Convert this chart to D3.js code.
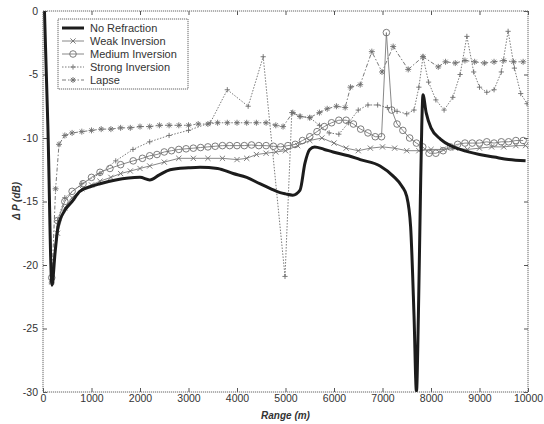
<!DOCTYPE html>
<html><head><meta charset="utf-8">
<script src="https://cdn.jsdelivr.net/npm/d3@7"></script>
<style>body{margin:0;background:#fff}svg{display:block}</style>
</head><body><svg id="c" width="544" height="424"></svg>
<script>
// ---- data ----
const xTicks=[0,1000,2000,3000,4000,5000,6000,7000,8000,9000,10000];
const yTicks=[0,-5,-10,-15,-20,-25,-30];
const seriesNames=["No Refraction","Weak Inversion","Medium Inversion","Strong Inversion","Lapse"];

const noRefR=[30,100,185,250,310,450,600,760,1000,1175,1500,2000,2200,2400,2620,3000,3240,3600,3920,4200,4470,4700,4890,5000,5150,5300,5400,5500,5600,5800,5980,6300,6540,6950,7220,7400,7500,7580,7650,7700,7740,7780,7810,7835,7900,8000,8200,8400,8600,9000,9300,9600,9950];
const noRefDb=[0,-9,-21.6,-19,-17,-15.7,-15,-14.2,-13.8,-13.6,-13.3,-13.1,-13.3,-12.9,-12.5,-12.35,-12.3,-12.4,-12.8,-13.1,-13.6,-14.0,-14.3,-14.4,-14.5,-14.1,-12,-10.9,-10.7,-10.9,-11.1,-11.4,-11.7,-12.2,-13.0,-13.8,-14.6,-17,-24,-30,-24,-15,-9,-6.6,-8.0,-9.2,-10.1,-10.6,-10.9,-11.3,-11.5,-11.7,-11.8];

const weakR=[40,180,300,450,600,800,1000,1175,1400,1600,1800,2000,2200,2500,2800,3100,3400,3700,4000,4200,4400,4600,4800,5000,5250,5500,5750,6000,6250,6500,6750,7000,7250,7500,7750,8000,8250,8500,8750,9000,9250,9500,9750,9950];
const weakDb=[-1,-21.3,-17.5,-15.5,-14.7,-14.0,-13.7,-13.4,-13.1,-12.8,-12.6,-12.4,-12.2,-11.9,-11.6,-11.6,-11.6,-11.6,-11.7,-11.6,-11.3,-11.2,-11.1,-11.0,-10.6,-10.2,-10.0,-10.4,-10.8,-11.0,-10.8,-10.7,-10.8,-11.0,-11.0,-10.9,-10.9,-10.8,-10.9,-10.8,-10.7,-10.7,-10.6,-10.6];

const medR=[40,180,300,450,600,825,1000,1175,1380,1600,1860,2050,2200,2350,2500,2650,2800,2950,3100,3250,3400,3550,3700,3850,4000,4150,4300,4450,4600,4750,4900,5050,5200,5350,5500,5650,5800,5950,6100,6250,6400,6550,6700,6850,6980,7080,7190,7300,7420,7560,7700,7830,7960,8100,8250,8400,8550,8700,8850,9000,9150,9300,9450,9600,9750,9900];
const medDb=[-1,-21,-16.5,-15,-14.2,-13.6,-13.1,-12.7,-12.4,-12.1,-11.8,-11.6,-11.4,-11.3,-11.1,-11.0,-10.9,-10.85,-10.8,-10.75,-10.7,-10.65,-10.6,-10.6,-10.6,-10.6,-10.55,-10.6,-10.6,-10.65,-10.7,-10.6,-10.5,-10.2,-9.9,-9.5,-9.1,-8.8,-8.6,-8.6,-8.9,-9.3,-9.6,-9.9,-9.9,-1.7,-7.8,-8.9,-9.4,-10.0,-10.4,-10.7,-11.2,-11.2,-11.0,-10.7,-10.5,-10.4,-10.4,-10.4,-10.3,-10.4,-10.3,-10.3,-10.2,-10.2];

const strR=[40,180,300,450,800,1175,1500,1855,2200,2600,3000,3450,3800,4230,4540,4990,5130,5300,5500,5700,5900,6100,6300,6500,6700,6900,7100,7300,7500,7650,7750,7835,7950,8100,8270,8450,8600,8740,8880,9000,9150,9300,9450,9590,9720,9850,9980];
const strDb=[-1,-21.3,-16.5,-14.7,-13.6,-12.8,-11.8,-10.9,-10.3,-9.8,-9.4,-8.8,-6.2,-7.5,-3.6,-20.9,-8.0,-8.3,-8.4,-9.0,-9.6,-9.7,-8.8,-7.8,-7.4,-7.4,-7.6,-7.9,-8.1,-7.8,-6.0,-3.6,-5.6,-7.0,-7.8,-6.8,-5.0,-2.0,-4.8,-6.0,-6.4,-6.2,-4.8,-1.6,-4.5,-6.5,-7.3];

const lapR=[40,180,260,330,450,600,800,1000,1200,1400,1600,1800,2000,2200,2400,2600,2800,3000,3200,3400,3600,3800,4000,4200,4400,4600,4800,4950,5150,5300,5500,5700,5860,6050,6230,6340,6540,6780,6990,7220,7530,7835,8150,8300,8500,8700,8900,9100,9300,9500,9700,9900];
const lapDb=[-1,-21.4,-14,-10.5,-9.8,-9.6,-9.5,-9.4,-9.3,-9.3,-9.2,-9.2,-9.1,-9.1,-9.0,-9.0,-9.0,-9.0,-8.9,-8.9,-8.8,-8.8,-8.8,-8.8,-8.8,-8.8,-9.0,-9.1,-8.0,-8.3,-8.4,-8.0,-7.7,-7.5,-7.6,-6.0,-5.8,-3.2,-4.8,-2.8,-4.6,-3.6,-4.4,-4.0,-4.1,-3.9,-4.0,-4.1,-4.0,-3.9,-4.0,-4.0];

// ---- drawing ----
const svg=d3.select("#c");
const L=43,R=528,T=11,B=392;
const x=d3.scaleLinear().domain([0,10000]).range([L,R]);
const y=d3.scaleLinear().domain([-30,0]).range([B,T]);
const font="Liberation Sans, Arial, sans-serif";
const grey="#7a7a7a";

svg.append("rect").attr("width",544).attr("height",424).attr("fill","#fff");
svg.append("defs").append("clipPath").attr("id","clip")
  .append("rect").attr("x",L).attr("y",T).attr("width",R-L).attr("height",B-T);

// axes (MATLAB style inward ticks)
function styleAxis(g,labels){
  g.select(".domain").remove();
  g.selectAll(".tick line").attr("stroke","#555");
  g.selectAll(".tick text").attr("font-family",font).attr("font-size",10.5).attr("fill","#333");
  if(!labels) g.selectAll(".tick text").remove();
}
svg.append("g").attr("transform",`translate(0,${B})`)
  .call(d3.axisBottom(x).tickValues(xTicks).tickFormat(d3.format("d")).tickSizeInner(-4).tickSizeOuter(0).tickPadding(3))
  .call(g=>styleAxis(g,true));
svg.append("g").attr("transform",`translate(0,${T})`)
  .call(d3.axisTop(x).tickValues(xTicks).tickSizeInner(-4).tickSizeOuter(0))
  .call(g=>styleAxis(g,false));
svg.append("g").attr("transform",`translate(${L},0)`)
  .call(d3.axisLeft(y).tickValues(yTicks).tickFormat(d=>d===0?"0":String(d)).tickSizeInner(-4).tickSizeOuter(0).tickPadding(5))
  .call(g=>styleAxis(g,true));
svg.append("g").attr("transform",`translate(${R},0)`)
  .call(d3.axisRight(y).tickValues(yTicks).tickSizeInner(-4).tickSizeOuter(0))
  .call(g=>styleAxis(g,false));

// marker shapes
const mk={
  x:s=>`M${-s},${-s}L${s},${s}M${-s},${s}L${s},${-s}`,
  plus:s=>`M${-s},0H${s}M0,${-s}V${s}`,
  star:s=>`M${-s},0H${s}M0,${-s}V${s}M${-s*0.7},${-s*0.7}L${s*0.7},${s*0.7}M${-s*0.7},${s*0.7}L${s*0.7},${-s*0.7}`
};

const series=[
  {name:seriesNames[1],data:d3.zip(weakR,weakDb),dash:null,marker:"x",ms:2.6,w:0.9},
  {name:seriesNames[2],data:d3.zip(medR,medDb),dash:null,marker:"circle",ms:3.3,w:0.9},
  {name:seriesNames[3],data:d3.zip(strR,strDb),dash:"1.5,1.5",marker:"plus",ms:2.6,w:1},
  {name:seriesNames[4],data:d3.zip(lapR,lapDb),dash:"4,2,1.5,2",marker:"star",ms:3,w:1},
];

const plot=svg.append("g").attr("clip-path","url(#clip)");
const line=d3.line().x(d=>x(d[0])).y(d=>y(d[1]));

function drawMarker(g,type,s,col){
  if(type==="circle") g.append("circle").attr("r",s).attr("fill","none").attr("stroke",col).attr("stroke-width",0.9);
  else g.append("path").attr("d",mk[type](s)).attr("fill","none").attr("stroke",col).attr("stroke-width",0.9);
}

series.forEach(s=>{
  plot.append("path").datum(s.data).attr("d",line).attr("fill","none")
    .attr("stroke",grey).attr("stroke-width",s.w).attr("stroke-dasharray",s.dash);
  s.data.forEach((d,i)=>{
    if(i===0) return;
    const g=plot.append("g").attr("transform",`translate(${x(d[0])},${y(d[1])})`);
    drawMarker(g,s.marker,s.ms,"#6e6e6e");
  });
});

// No refraction on top
plot.append("path").datum(d3.zip(noRefR,noRefDb))
  .attr("d",d3.line().x(d=>x(d[0])).y(d=>y(d[1])).curve(d3.curveMonotoneX))
  .attr("fill","none").attr("stroke","#1c1c1c").attr("stroke-width",3).attr("stroke-linejoin","round");

// frame
svg.append("rect").attr("x",L).attr("y",T).attr("width",R-L).attr("height",B-T)
  .attr("fill","none").attr("stroke","#666").attr("stroke-width",1).attr("stroke-dasharray","1.2,0.8");

// legend
const lg=svg.append("g");
lg.append("rect").attr("x",58).attr("y",19).attr("width",130).attr("height",70)
  .attr("fill","#fff").attr("stroke","#666").attr("stroke-dasharray","1.2,0.8");
const legendItems=[{name:seriesNames[0],black:true}].concat(series);
legendItems.forEach((s,i)=>{
  const yy=28+i*13;
  if(s.black){
    lg.append("line").attr("x1",62).attr("x2",84).attr("y1",yy).attr("y2",yy).attr("stroke","#1c1c1c").attr("stroke-width",3);
  } else {
    lg.append("line").attr("x1",62).attr("x2",84).attr("y1",yy).attr("y2",yy).attr("stroke",grey)
      .attr("stroke-width",s.w).attr("stroke-dasharray",s.dash);
    const g=lg.append("g").attr("transform",`translate(73,${yy})`);
    drawMarker(g,s.marker,s.ms,"#6e6e6e");
  }
  lg.append("text").attr("x",90).attr("y",yy+4).attr("font-family",font).attr("font-size",11)
    .attr("fill","#333").text(s.name);
});

// axis titles
svg.append("text").attr("x",(L+R)/2).attr("y",419).attr("text-anchor","middle")
  .attr("font-family",font).attr("font-size",10).attr("font-style","italic").attr("font-weight","bold")
  .attr("fill","#333").text("Range (m)");
svg.append("text").attr("transform",`translate(20,201) rotate(-90)`).attr("text-anchor","middle")
  .attr("font-family",font).attr("font-size",10).attr("font-style","italic").attr("font-weight","bold")
  .attr("fill","#333").text("Δ P (dB)");
</script></body></html>
